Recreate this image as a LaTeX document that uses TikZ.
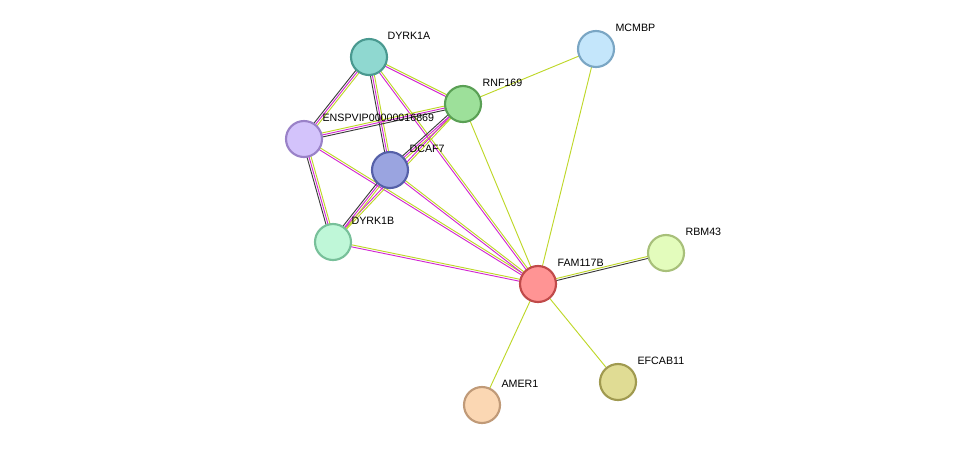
\documentclass[tikz,border=0pt]{standalone}
\usepackage{fontspec}
\setmainfont{Liberation Sans}
\usetikzlibrary{calc}
\definecolor{ek}{RGB}{60,60,60}
\definecolor{em}{RGB}{210,40,210}
\definecolor{ey}{RGB}{190,215,40}
\newcommand{\link}[3]{%
  \foreach \c/\o in {#3}
    \draw[\c, line width=0.7pt] ($(#1)!\o pt!90:(#2)$) -- ($(#2)!\o pt!-90:(#1)$);}
\begin{document}
\begin{tikzpicture}[x=0.75pt, y=-0.75pt,
    prot/.style={circle, draw, line width=1.6pt, minimum size=27pt, inner sep=0pt},
    lbl/.style={font=\fontsize{8}{9}\selectfont, inner sep=1pt}
]
    \useasboundingbox (0,0) rectangle (975,451);
    \coordinate (dyrka) at (369,57);
    \coordinate (rnf) at (463,104);
    \coordinate (mcmbp) at (596,49);
    \coordinate (enspvip) at (304,139);
    \coordinate (dcaf) at (390,170);
    \coordinate (dyrkb) at (333,242);
    \coordinate (fam) at (538,284);
    \coordinate (rbm) at (666,253);
    \coordinate (efcab) at (618,382);
    \coordinate (amer) at (482,405);

    % connectors
    \link{dyrka}{enspvip}{ek/-1.5,em/0,ey/1.5}
    \link{dyrka}{rnf}{em/-0.75,ey/0.75}
    \link{dyrka}{dcaf}{ek/-1.5,em/0,ey/1.5}
    \link{dyrka}{fam}{em/-0.75,ey/0.75}
    \link{enspvip}{rnf}{ek/-1.5,em/0,ey/1.5}
    \link{enspvip}{dyrkb}{ek/-1.5,em/0,ey/1.5}
    \link{enspvip}{fam}{em/-0.75,ey/0.75}
    \link{rnf}{dcaf}{ek/-1.5,em/0,ey/1.5}
    \link{rnf}{dyrkb}{em/-0.75,ey/0.75}
    \link{rnf}{fam}{ey/0}
    \link{rnf}{mcmbp}{ey/0}
    \link{mcmbp}{fam}{ey/0}
    \link{dcaf}{dyrkb}{ek/-1.5,em/0,ey/1.5}
    \link{dcaf}{fam}{em/-0.75,ey/0.75}
    \link{dyrkb}{fam}{em/-0.75,ey/0.75}
    \link{fam}{rbm}{ek/-0.75,ey/0.75}
    \link{fam}{efcab}{ey/0}
    \link{fam}{amer}{ey/0}

    % proteins
    \node[prot, fill={rgb,255:red,143;green,216;blue,208}, draw={rgb,255:red,74;green,153;blue,144}] (n1) at (dyrka) {};
    \node[prot, fill={rgb,255:red,157;green,224;blue,154}, draw={rgb,255:red,90;green,160;blue,85}] (n2) at (rnf) {};
    \node[prot, fill={rgb,255:red,196;green,230;blue,251}, draw={rgb,255:red,122;green,166;blue,196}] (n3) at (mcmbp) {};
    \node[prot, fill={rgb,255:red,211;green,195;blue,251}, draw={rgb,255:red,154;green,130;blue,200}] (n4) at (enspvip) {};
    \node[prot, fill={rgb,255:red,154;green,164;blue,224}, draw={rgb,255:red,85;green,96;blue,168}] (n5) at (dcaf) {};
    \node[prot, fill={rgb,255:red,191;green,247;blue,216}, draw={rgb,255:red,120;green,192;blue,154}] (n6) at (dyrkb) {};
    \node[prot, fill={rgb,255:red,255;green,148;blue,148}, draw={rgb,255:red,192;green,74;blue,74}] (n7) at (fam) {};
    \node[prot, fill={rgb,255:red,227;green,252;blue,188}, draw={rgb,255:red,168;green,192;blue,122}] (n8) at (rbm) {};
    \node[prot, fill={rgb,255:red,224;green,220;blue,148}, draw={rgb,255:red,160;green,154;blue,80}] (n9) at (efcab) {};
    \node[prot, fill={rgb,255:red,251;green,215;blue,179}, draw={rgb,255:red,192;green,154;blue,120}] (n10) at (amer) {};

    % labels
    \node[lbl, anchor=west] at (386,36) {DYRK1A};
    \node[lbl, anchor=west] at (481,83) {RNF169};
    \node[lbl, anchor=west] at (614,28) {MCMBP};
    \node[lbl, anchor=west] at (321,118) {ENSPVIP00000016869};
    \node[lbl, anchor=west] at (408,149) {DCAF7};
    \node[lbl, anchor=west] at (350,221) {DYRK1B};
    \node[lbl, anchor=west] at (556,263) {FAM117B};
    \node[lbl, anchor=west] at (684,232) {RBM43};
    \node[lbl, anchor=west] at (636,361) {EFCAB11};
    \node[lbl, anchor=west] at (500,384) {AMER1};
\end{tikzpicture}
\end{document}
